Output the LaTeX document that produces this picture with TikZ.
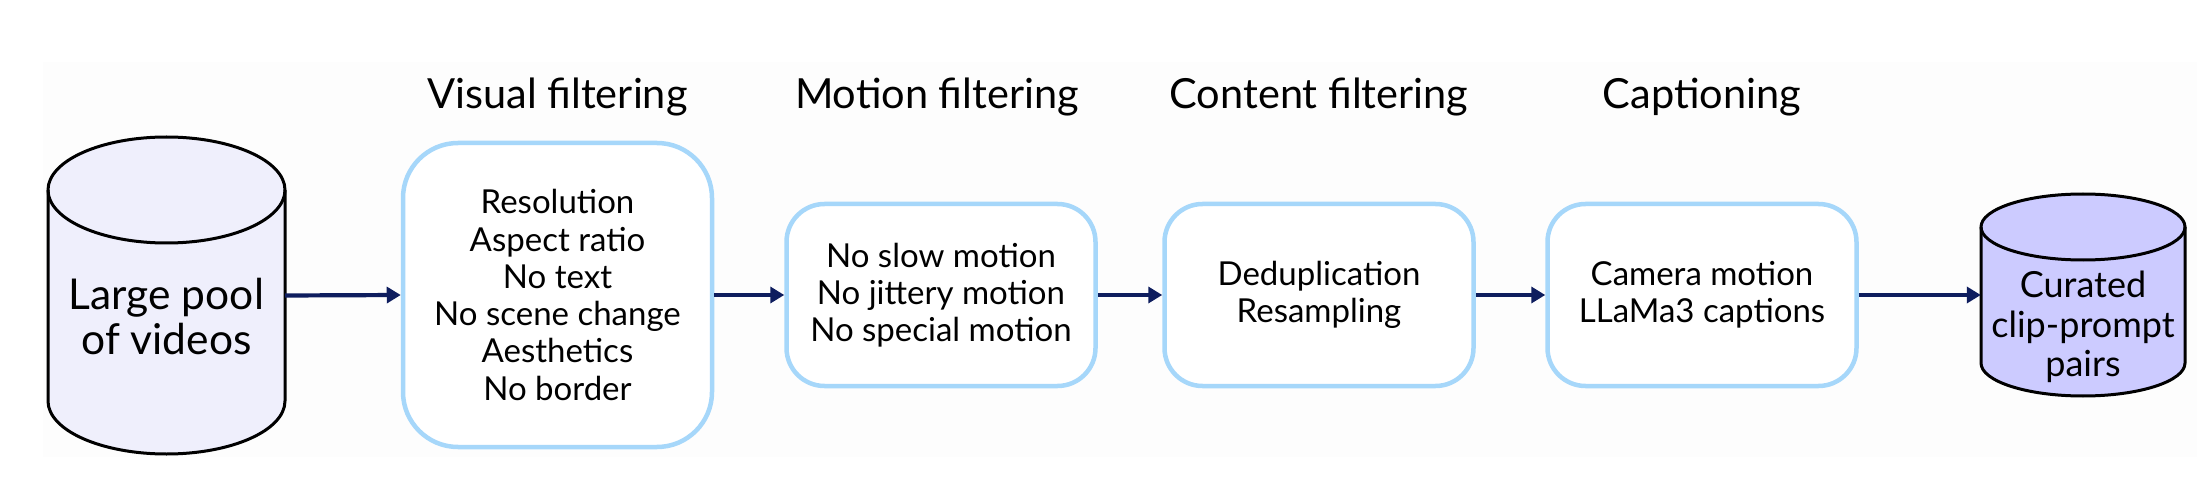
\documentclass[tikz,border=0pt]{standalone}
\usepackage{fontspec}
\setmainfont{Lato}
\usetikzlibrary{arrows.meta}
\definecolor{bgc}{HTML}{FDFDFD}
\definecolor{boxb}{HTML}{A6D7FA}
\definecolor{navy}{HTML}{0E1D5E}
\definecolor{cylA}{HTML}{EFEFFC}
\definecolor{cylB}{HTML}{CCCBFF}
\begin{document}
\begin{tikzpicture}[x=1pt,y=1pt,
  stage/.style={draw=boxb, line width=4.5pt, fill=white, rounded corners=38pt,
    minimum width=309pt, minimum height=182pt, align=center, inner sep=0pt,
    font=\fontsize{33}{37.3}\selectfont},
  bigstage/.style={stage, rounded corners=55pt, minimum height=304pt},
  title/.style={anchor=base, font=\fontsize{41.5}{44}\selectfont},
  flow/.style={draw=navy, line width=4.2pt, -{Triangle[length=14pt,width=16pt]}},
  cylnode/.style={draw=none, inner sep=0pt},
  cylline/.style={draw=black, line width=3pt},
  cyltext/.style={align=center, inner sep=0pt}]
\useasboundingbox (0,0) rectangle (2212,480);
\fill[bgc] (43,23) rectangle (2197,418);

% left cylinder
\path[cylline, fill=cylA] (48,290) -- (48,79)
  arc[start angle=180, end angle=360, x radius=118.5, y radius=53]
  -- (285,290)
  arc[start angle=0, end angle=180, x radius=118.5, y radius=53] -- cycle;
\draw[cylline] (48,290) arc[start angle=180, end angle=360, x radius=118.5, y radius=53];
\node[cylnode, minimum width=237pt, minimum height=317pt] (pool) at (166.5,184.5) {};
\node[cyltext, font=\fontsize{42.5}{45}\selectfont] (pooltext) at (166.5,163) {Large pool\\of videos};

% right cylinder
\path[cylline, fill=cylB] (1981,253) -- (1981,117)
  arc[start angle=180, end angle=360, x radius=102, y radius=33]
  -- (2185,253)
  arc[start angle=0, end angle=180, x radius=102, y radius=33] -- cycle;
\draw[cylline] (1981,253) arc[start angle=180, end angle=360, x radius=102, y radius=33];
\node[cylnode, minimum width=204pt, minimum height=202pt] (curated) at (2083,185) {};
\node[cyltext, font=\fontsize{36}{39.5}\selectfont] (curatedtext) at (2083,153) {Curated\\clip-prompt\\pairs};

% stages
\node[bigstage] (visual) at (557.5,185) {Resolution\\Aspect ratio\\No text\\No scene change\\Aesthetics\\No border};
\node[stage] (motion) at (941,185) {No slow motion\\No jittery motion\\No special motion};
\node[stage] (content) at (1319,185) {Deduplication\\Resampling};
\node[stage] (caption) at (1702,185) {Camera motion\\LLaMa3 captions};

% titles
\node[title] (t1) at (557.5,371) {Visual filtering};
\node[title] (t2) at (937,371) {Motion filtering};
\node[title] (t3) at (1319,371) {Content filtering};
\node[title] (t4) at (1702,371) {Captioning};

% connectors
\draw[flow] (pool.east) -- (visual.west);
\draw[flow] (visual.east) -- (motion.west);
\draw[flow] (motion.east) -- (content.west);
\draw[flow] (content.east) -- (caption.west);
\draw[flow] (caption.east) -- (curated.west);
\end{tikzpicture}
\end{document}
